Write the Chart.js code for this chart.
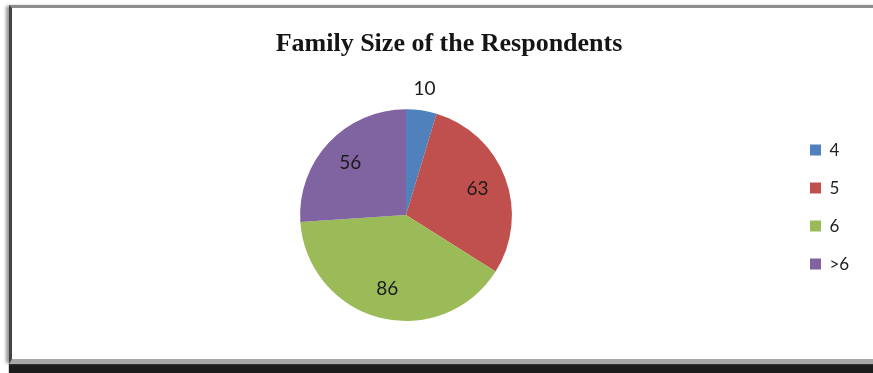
<!DOCTYPE html>
<html>
<head>
<meta charset="utf-8">
<script src="https://cdn.jsdelivr.net/npm/chart.js@4/dist/chart.umd.min.js"></script>
<style>
  html, body { margin: 0; padding: 0; background: #fff; overflow: hidden; }
  .frame {
    position: absolute;
    left: 9px; top: 5px;
    width: 900px; height: 351px;
    border-top: 3px solid #8c8c8c;
    border-left: 3px solid #444;
    border-bottom: 5px solid #a8a8a8;
    box-shadow: -4px 0 3px -1px #9a9a9a, 0 10px 1px #1c1c1c;
    background: #fff;
  }
  .wrap { position: absolute; left: 0; top: 0; width: 880px; height: 373px; }
</style>
</head>
<body>
<div class="frame"></div>
<div class="wrap"><canvas id="pieChart"></canvas></div>
<script>
const categories = ['4', '5', '6', '>6'];
const counts = [10, 63, 86, 56];
const sliceColors = ['#4F81BD', '#C0504D', '#9BBB59', '#8064A2'];

// value labels: small slices go outside the rim, the rest sit inside
const sliceLabels = {
  id: 'sliceLabels',
  afterDatasetsDraw(chart) {
    const ctx = chart.ctx;
    const meta = chart.getDatasetMeta(0);
    const total = counts.reduce((a, b) => a + b, 0);
    ctx.save();
    ctx.font = '19px Lato';
    ctx.fillStyle = '#1a1a1a';
    ctx.textAlign = 'center';
    ctx.textBaseline = 'middle';
    meta.data.forEach((arc, i) => {
      const p = arc.getProps(['x', 'y', 'startAngle', 'endAngle', 'outerRadius'], true);
      const mid = (p.startAngle + p.endAngle) / 2;
      const r = counts[i] / total < 0.08 ? p.outerRadius * 1.2 : p.outerRadius * 0.72;
      ctx.fillText(String(counts[i]), p.x + Math.cos(mid) * r, p.y + Math.sin(mid) * r);
    });
    ctx.restore();
  }
};

// legend column: fixed width so the pie sits left of centre, nudged up a little
const legendPlacement = {
  id: 'legendPlacement',
  afterInit(chart) {
    const fit = chart.legend.fit;
    chart.legend.fit = function () {
      fit.call(this);
      this.width = 86;
    };
  },
  afterLayout(chart) {
    chart.legend.top -= 8;
    chart.legend.bottom -= 8;
  }
};

const ctx = document.getElementById('pieChart');

new Chart(ctx, {
  type: 'pie',
  data: {
    labels: categories,
    datasets: [{
      data: counts,
      backgroundColor: sliceColors,
      borderWidth: 0,
      hoverOffset: 0
    }]
  },
  options: {
    responsive: true,
    maintainAspectRatio: false,
    animation: false,
    layout: {
      padding: { left: 23, right: 5, top: 0, bottom: 52 }
    },
    plugins: {
      title: {
        display: true,
        text: 'Family Size of the Respondents',
        color: '#151515',
        font: { family: '"Liberation Serif"', size: 26, weight: 'bold', lineHeight: 1.2 },
        padding: { top: 29, bottom: 49 }
      },
      legend: {
        display: true,
        position: 'right',
        fullSize: false,
        align: 'center',
        labels: {
          boxWidth: 11,
          boxHeight: 11,
          padding: 21,
          color: '#222',
          font: { family: 'Lato', size: 17, lineHeight: 1.2 }
        }
      },
      tooltip: { enabled: false }
    }
  },
  plugins: [sliceLabels, legendPlacement]
});
</script>
</body>
</html>
